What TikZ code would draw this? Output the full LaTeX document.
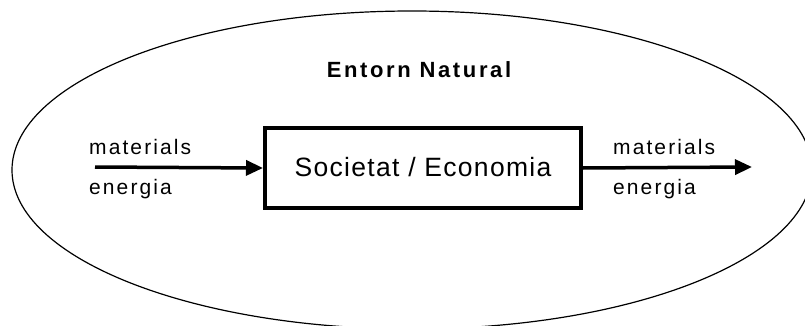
\documentclass[tikz,border=0pt]{standalone}
\usepackage{fontspec}
\setmainfont{Liberation Sans}
\usepackage{tikz}
\usetikzlibrary{arrows.meta}

\newfontfamily\labelfont[LetterSpace=10]{Liberation Sans}
\newfontfamily\boxfont[LetterSpace=5]{Liberation Sans}
\newfontfamily\titlefont[LetterSpace=12]{Liberation Sans}

\tikzset{
	flowlabel/.style = {font=\labelfont\fontsize{21}{25}\selectfont, anchor=base west, inner sep=0pt},
	flow/.style = {-{Triangle[length=17pt, width=15pt]}, line width=3.5pt}
}

\begin{document}
\begin{tikzpicture}[x=1pt, y=-1pt]
					\def\rx{400};
					\def\ry{159};

					\useasboundingbox (0,0) rectangle (805,326);
					\clip (0,0) rectangle (805,326);

					\draw [line width=1.2pt] (412,170) ellipse [x radius=\rx, y radius=\ry];

					\node [font=\titlefont\bfseries\fontsize{22}{26}\selectfont, anchor=base] (entorn) at (419,78) {Entorn Natural};

					\node [draw, line width=4pt, minimum width=316pt, minimum height=80pt, inner sep=0pt] (soc) at (423,168) {};
					\node [font=\boxfont\fontsize{26.5}{30}\selectfont, anchor=base] (soctext) at (423,176) {Societat / Economia};

					\coordinate (in) at (95,167);
					\coordinate (out) at (752,167);

					\begin{scope}[flow]
						\draw (in) -- (soc.west);
						\draw (soc.east) -- (out);
					\end{scope}

					\node [flowlabel] (matin) at (89,154) {materials};
					\node [flowlabel] (enin) at (89,194) {energia};
					\node [flowlabel] (matout) at (613,154) {materials};
					\node [flowlabel] (enout) at (613,194) {energia};
				\end{tikzpicture}
\end{document}
